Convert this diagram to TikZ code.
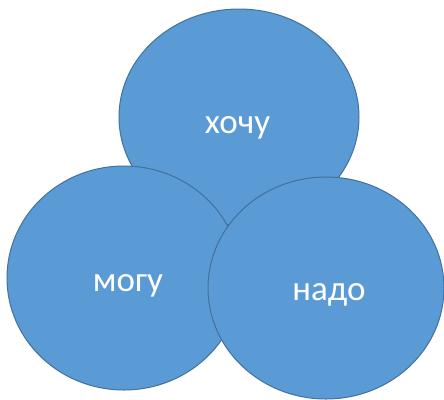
\documentclass[tikz,border=0pt]{standalone}
\usepackage{fontspec}
\setmainfont{Carlito}
\usetikzlibrary{shapes.geometric}
\definecolor{cfill}{HTML}{5B9BD5}
\definecolor{cline}{HTML}{41719C}
\begin{document}
\begin{tikzpicture}[x=1pt,y=-1pt,
  blob/.style={ellipse, draw=cline, fill=cfill, line width=1pt, inner sep=0pt},
  word/.style={anchor=base, text=white, inner sep=0pt, font=\fontsize{35}{40}\selectfont}]
\useasboundingbox[fill=white] (0,0) rectangle (444,399);
\node[blob, minimum width=240pt, minimum height=216pt] (top) at (239,117) {};
\node[blob, minimum width=234pt, minimum height=224pt] (left) at (124,278) {};
\node[blob, minimum width=236pt, minimum height=222pt] (right) at (326,288) {};
\node[word] (t1) at (237.5,133) {хочу};
\node[word] (t2) at (128,291.5) {могу};
\node[word] (t3) at (329,300) {надо};
\end{tikzpicture}
\end{document}
